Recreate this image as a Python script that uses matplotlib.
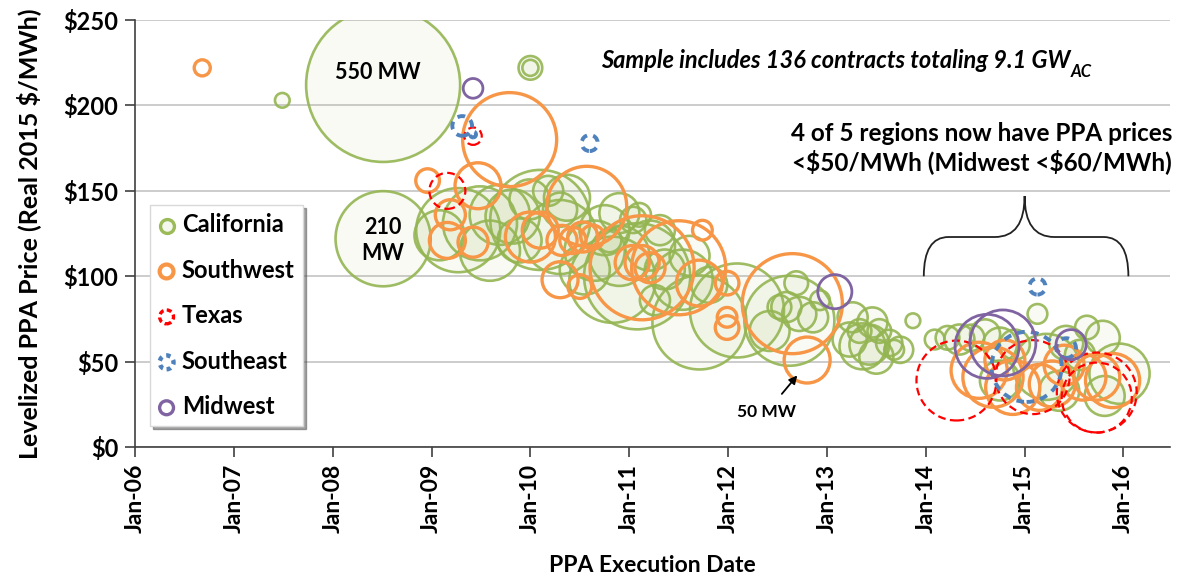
import numpy as np
import matplotlib
matplotlib.use("Agg")
import matplotlib.pyplot as plt
from matplotlib.path import Path
from matplotlib.patches import PathPatch

plt.rcParams['font.family'] = ['Lato', 'DejaVu Sans']
plt.rcParams['font.weight'] = 'bold'

# PPA data: execution date (decimal year), levelized price ($/MWh), capacity (MW)
ca_date = [2007.49, 2008.51, 2008.51, 2010.0, 2010.0,
           2009.27, 2009.49, 2009.82, 2010.1, 2010.3, 2010.37, 2010.9, 2011.04, 2010.83,
           2009.69, 2009.99, 2010.18, 2009.89, 2009.59, 2009.08, 2010.65, 2010.55, 2010.75, 2010.3,
           2011.08, 2011.54, 2011.71, 2012.09, 2010.9, 2011.21, 2011.36, 2011.61, 2011.81, 2011.26,
           2011.31, 2010.8, 2011.1,
           2012.59, 2012.72, 2012.86, 2012.69, 2012.52, 2012.42, 2012.93, 2012.62,
           2013.26, 2013.46, 2013.36, 2013.63, 2013.74, 2013.5, 2013.23, 2013.33, 2013.53, 2013.87,
           2013.43, 2013.68,
           2014.09, 2014.22, 2014.34, 2014.46, 2014.6, 2014.75, 2014.9, 2015.13, 2015.22, 2015.42,
           2015.63, 2015.79, 2015.96, 2015.81, 2015.35, 2014.75, 2015.56]
ca_price = [203, 212, 122, 222, 222,
            127, 131, 135, 133, 123, 146, 137, 133, 98,
            136, 145, 150, 121, 115, 124, 115, 104, 127, 139,
            100, 98, 73, 80, 112, 118, 104, 112, 95, 86,
            127, 121, 136,
            82, 78, 76, 96, 82, 68, 86, 74,
            76, 73, 59, 61, 57, 53, 63, 68, 68, 74,
            60, 57,
            63, 64, 63, 64, 66, 60, 60, 78, 47, 61,
            70, 64, 43, 30, 33, 39, 54]
ca_mw = [5, 550, 210, 13, 6,
         164, 127, 68, 232, 127, 49, 37, 16, 172,
         84, 37, 21, 45, 84, 58, 84, 58, 58, 27,
         261, 84, 205, 205, 84, 58, 37, 37, 30, 21,
         21, 13, 13,
         21, 27, 21, 13, 13, 37, 9, 188,
         21, 21, 49, 16, 16, 27, 27, 13, 13, 5,
         37, 9,
         9, 13, 21, 16, 21, 27, 21, 9, 101, 27,
         13, 27, 84, 37, 37, 37, 21]

sw_date = [2006.68, 2009.79, 2008.96, 2009.47, 2009.19, 2009.16, 2009.42, 2010.0, 2010.1,
           2010.32, 2010.43, 2010.53, 2010.63, 2010.3, 2010.5, 2010.57,
           2011.03, 2011.13, 2011.21, 2011.13, 2011.5, 2011.74, 2011.71,
           2011.99, 2011.99, 2011.99, 2012.65, 2012.8,
           2014.54, 2014.68, 2014.88, 2015.15, 2015.28, 2015.59, 2015.73, 2015.89, 2015.4, 2014.8]
sw_price = [222, 180, 156, 153, 136, 121, 120, 123, 127,
            121, 121, 123, 123, 98, 94, 141,
            108, 108, 105, 105, 105, 127, 96,
            96, 76, 70, 84, 51,
            45, 41, 35, 35, 37, 41, 41, 39, 48, 51]
sw_mw = [6, 205, 13, 49, 21, 30, 21, 58, 30,
         21, 16, 21, 13, 30, 13, 148,
         27, 27, 21, 251, 205, 9, 49,
         13, 9, 13, 232, 49,
         73, 84, 68, 49, 49, 49, 49, 68, 37, 37]

tx_date = [2009.42, 2009.16, 2014.31, 2015.08, 2015.73, 2015.73]
tx_price = [182, 150, 39, 41, 32, 29]
tx_mw = [7, 30, 148, 127, 148, 114]

se_date = [2009.31, 2009.42, 2010.6, 2015.13, 2015.02, 2015.42]
se_price = [188, 183, 178, 94, 47, 58]
se_mw = [9, 0.8, 6, 6, 114, 9]

mw_date = [2009.42, 2013.08, 2014.62, 2014.78, 2015.47]
mw_price = [210, 91, 59, 61, 60]
mw_mw = [9, 27, 95, 101, 21]

year_ticks = list(range(2006, 2017))
year_labels = ["Jan-%02d" % (y % 100) for y in year_ticks]
price_ticks = [0, 50, 100, 150, 200, 250]

dpi = 100


def bubble(mw):
    # bubble area proportional to capacity; 550 MW -> radius of 77 px
    r_px = 77 * np.sqrt(np.asarray(mw, dtype=float) / 550.0)
    return (2 * r_px * 72.0 / dpi) ** 2


green = '#9BBB59'
orange = '#F79646'
red = '#FF0000'
blue = '#4F81BD'
purple = '#8064A2'

fig = plt.figure(figsize=(11.95, 5.8), dpi=dpi)
ax = fig.add_axes([0.113, 0.229, 0.866, 0.7365])

ax.scatter(ca_date, ca_price, s=bubble(ca_mw), facecolor=(0.61, 0.73, 0.35, 0.07),
           edgecolor=(0.58, 0.71, 0.32, 0.9), linewidths=1.9, zorder=2)
ax.scatter(sw_date, sw_price, s=bubble(sw_mw), facecolor='none', edgecolor=orange,
           linewidths=2.4, zorder=3)
ax.scatter(tx_date, tx_price, s=bubble(tx_mw), facecolor='none', edgecolor=red,
           linewidths=1.6, linestyle=(0, (3.5, 2)), zorder=4)
ax.scatter(se_date, se_price, s=bubble(se_mw), facecolor='none', edgecolor=blue,
           linewidths=2.8, linestyle=(0, (2, 1.6)), zorder=5)
ax.scatter(mw_date, mw_price, s=bubble(mw_mw), facecolor='none', edgecolor=purple,
           linewidths=2.0, zorder=6)

ax.set_xlim(2006, 2016.47)
ax.set_ylim(0, 250)
ax.set_xticks(year_ticks)
ax.set_xticklabels(year_labels, rotation=90, fontsize=16.5, fontweight='bold')
ax.set_yticks(price_ticks)
ax.set_yticklabels(["\\$%d" % p for p in price_ticks], fontsize=17, fontweight='bold')
ax.tick_params(axis='both', direction='out', length=7, width=1.2, color='#404040', pad=5)
ax.yaxis.grid(True, color='#c8c8c8', linewidth=1.3)
ax.set_axisbelow(True)
for side in ['top', 'right']:
    ax.spines[side].set_visible(False)
for side in ['left', 'bottom']:
    ax.spines[side].set_color('#404040')
    ax.spines[side].set_linewidth(1.2)
    ax.spines[side].set_zorder(7)

ax.set_xlabel("PPA Execution Date", fontsize=16.5, fontweight='bold', labelpad=16)
ax.set_ylabel("Levelized PPA Price (Real 2015 \\$/MWh)", fontsize=18, fontweight='bold', labelpad=16)

# legend with small markers
h_ca = ax.scatter([], [], s=100, facecolor=(0.61, 0.73, 0.35, 0.1), edgecolor=green, linewidths=2.4)
h_sw = ax.scatter([], [], s=100, facecolor='none', edgecolor=orange, linewidths=3.0)
h_tx = ax.scatter([], [], s=100, facecolor='none', edgecolor=red, linewidths=2.4, linestyle=(0, (1.5, 1)))
h_se = ax.scatter([], [], s=100, facecolor='none', edgecolor=blue, linewidths=3.2, linestyle=(0, (1, 1)))
h_mw = ax.scatter([], [], s=100, facecolor='none', edgecolor=purple, linewidths=2.4)
leg = ax.legend([h_ca, h_sw, h_tx, h_se, h_mw],
                ['California', 'Southwest', 'Texas', 'Southeast', 'Midwest'],
                loc='upper left', bbox_to_anchor=(0.0145, 0.567), borderaxespad=0,
                prop={'size': 17, 'weight': 'bold'}, labelspacing=0.95, handletextpad=0.3,
                handlelength=0.7, borderpad=0.35, fancybox=False, shadow=True, framealpha=1)
leg.get_frame().set_edgecolor('#d9d9d9')
leg.set_zorder(10)

# annotations
ax.text(2008.46, 219.5, "550 MW", ha='center', va='center', fontsize=15.5, fontweight='bold', zorder=8)
ax.text(2008.51, 121, "210\nMW", ha='center', va='center', fontsize=15.5, fontweight='bold',
        linespacing=1.25, zorder=8)
ax.annotate("50 MW", xy=(2012.7, 42), xytext=(2012.39, 20.5), ha='center', va='center',
            fontsize=12.5, fontweight='bold',
            arrowprops=dict(arrowstyle='-|>', color='black', lw=1.3, shrinkA=7, shrinkB=0,
                            mutation_scale=12), zorder=8)

t = ax.text(2015.46, 222, "Sample includes 136 contracts totaling 9.1 GW", ha='right', va='baseline',
            fontsize=17, fontweight='bold', style='italic', zorder=8)
ax.annotate("AC", xy=(1, 0), xycoords=t, xytext=(0.5, -3.5), textcoords='offset points',
            ha='left', va='baseline', fontsize=12, fontweight='bold', style='italic')
ax.text(2014.57, 175, "4 of 5 regions now have PPA prices\n<\\$50/MWh (Midwest <\\$60/MWh)",
        ha='center', va='center', fontsize=17.5, fontweight='bold', linespacing=1.2, zorder=8)

# curly brace over the 2014-2015 contracts
bx0, bx1, bxm = 2013.98, 2016.05, 2015.0
y_end, y_sh, y_top = 100, 123, 147
verts = [(bx0, y_end), (bx0, y_sh), (bx0 + 0.25, y_sh),
         (bxm - 0.3, y_sh), (bxm, y_sh), (bxm, y_top),
         (bxm, y_sh), (bxm + 0.3, y_sh),
         (bx1 - 0.25, y_sh), (bx1, y_sh), (bx1, y_end)]
codes = [Path.MOVETO, Path.CURVE3, Path.CURVE3,
         Path.LINETO, Path.CURVE3, Path.CURVE3,
         Path.CURVE3, Path.CURVE3,
         Path.LINETO, Path.CURVE3, Path.CURVE3]
ax.add_patch(PathPatch(Path(verts, codes), facecolor='none', edgecolor='#222222', lw=1.3, zorder=8))

fig.savefig("out.png", dpi=dpi)
